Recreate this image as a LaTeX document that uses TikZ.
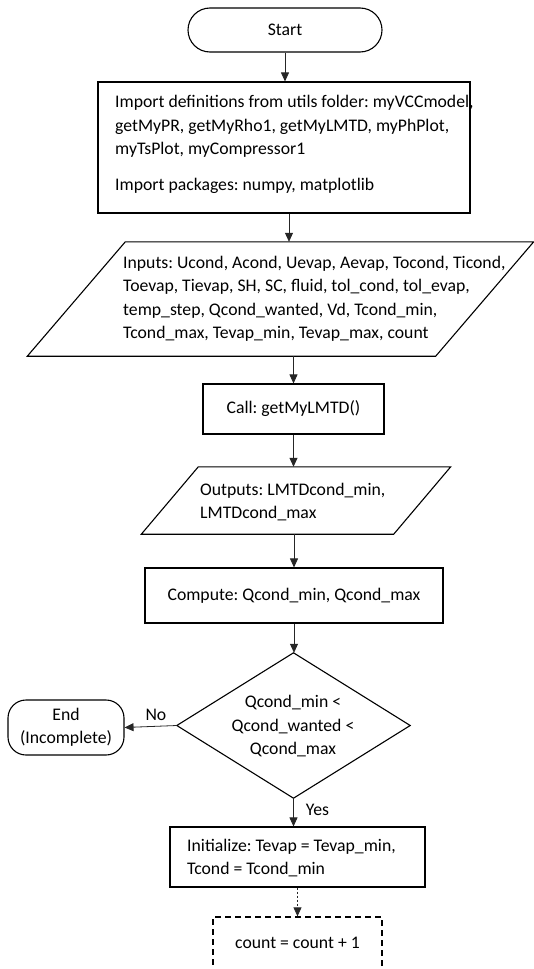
\documentclass[tikz,border=0pt]{standalone}
\usepackage{fontspec}
\setmainfont{Carlito}
\usetikzlibrary{arrows.meta,calc}
\begin{document}
\begin{tikzpicture}[x=1pt,y=-1pt,
  every node/.style={font=\fontsize{17.7}{23.5}\selectfont\frenchspacing, inner sep=0pt},
  box/.style={draw, line width=1.1pt, rectangle},
  shapeline/.style={line width=1.1pt, line join=miter},
  txt/.style={anchor=west, align=left},
  arr/.style={draw=black!85, line width=0.8pt, -{Triangle[length=9pt,width=8pt]}},
  dasharr/.style={arr, dash pattern=on 2pt off 2pt},
  dashbox/.style={draw, line width=1.3pt, dash pattern=on 6pt off 4pt}]
\useasboundingbox (0,0) rectangle (534,969);
\clip (0,0) rectangle (534,969);

% Start
\node[box, rounded corners=22pt, minimum width=194pt, minimum height=44pt] (start) at (285,30) {Start};

% Import box
\node[box, minimum width=372pt, minimum height=131pt] (imp) at (284,147.5) {};
\node[txt] (imptxt) at (115,144.5)
 {Import definitions from utils folder: myVCCmodel,\\ getMyPR, getMyRho1, getMyLMTD, myPhPlot,\\ myTsPlot, myCompressor1\\[12.5pt] Import packages: numpy, matplotlib};

% Inputs parallelogram
\node[minimum width=408pt, minimum height=114pt] (inp) at (280.5,299) {};
\draw[shapeline] ([xshift=49pt]inp.north west) -- ([xshift=49pt]inp.north east) -- ([xshift=-49pt]inp.south east) -- ([xshift=-49pt]inp.south west) -- cycle;
\node[txt] (inptxt) at (123,299)
 {Inputs: Ucond, Acond, Uevap, Aevap, Tocond, Ticond,\\ Toevap, Tievap, SH, SC, fluid, tol\_cond, tol\_evap,\\ temp\_step, Qcond\_wanted, Vd, Tcond\_min,\\ Tcond\_max, Tevap\_min, Tevap\_max, count};

% Call
\node[box, minimum width=181pt, minimum height=50pt] (call) at (293.5,409) {Call: getMyLMTD()};

% Outputs parallelogram
\node[minimum width=252pt, minimum height=67pt] (out) at (296,500.5) {};
\draw[shapeline] ([xshift=28.5pt]out.north west) -- ([xshift=28.5pt]out.north east) -- ([xshift=-28.5pt]out.south east) -- ([xshift=-28.5pt]out.south west) -- cycle;
\node[txt] (outtxt) at (200,502) {Outputs: LMTDcond\_min,\\ LMTDcond\_max};

% Compute
\node[box, minimum width=298pt, minimum height=55pt] (comp) at (294,595.5) {Compute: Qcond\_min, Qcond\_max};

% Decision diamond
\node[minimum width=233pt, minimum height=145pt] (dia) at (293.5,725.5) {};
\draw[shapeline] (dia.north) -- (dia.east) -- (dia.south) -- (dia.west) -- cycle;
\node[align=center] (diatxt) at (293,726.5) {Qcond\_min <\\ Qcond\_wanted <\\ Qcond\_max};

% End
\node[box, rounded corners=18pt, minimum width=116pt, minimum height=55pt, align=center] (end) at (66,727.5) {End\\(Incomplete)};

% Initialize
\node[box, minimum width=255pt, minimum height=60pt] (init) at (297.5,857) {};
\node[txt] (inittxt) at (187,858) {Initialize: Tevap = Tevap\_min,\\ Tcond = Tcond\_min};

% count box (dashed, cut off)
\node[dashbox, minimum width=169pt, minimum height=70pt] (cnt) at (297.5,952) {};
\node (cnttxt) at (297.5,943) {count = count + 1};

% connectors
\draw[arr] (start.south) -- (start.south |- imp.north);
\draw[arr] ([xshift=5pt]imp.south) -- ([xshift=5pt]imp.south |- inp.north);
\draw[arr] (call.north |- inp.south) -- (call.north);
\draw[arr] (call.south) -- (call.south |- out.north);
\draw[arr] (comp.north |- out.south) -- (comp.north);
\draw[arr] (comp.south) -- (comp.south |- dia.north);
\draw[arr] (dia.west) -- (end.east) node[pos=0.4, above=5pt] {No};
\draw[arr] (dia.south) -- (dia.south |- init.north) node[pos=0.4, right=12pt] {Yes};
\draw[dasharr] (init.south) -- (cnt.north);
\end{tikzpicture}
\end{document}
